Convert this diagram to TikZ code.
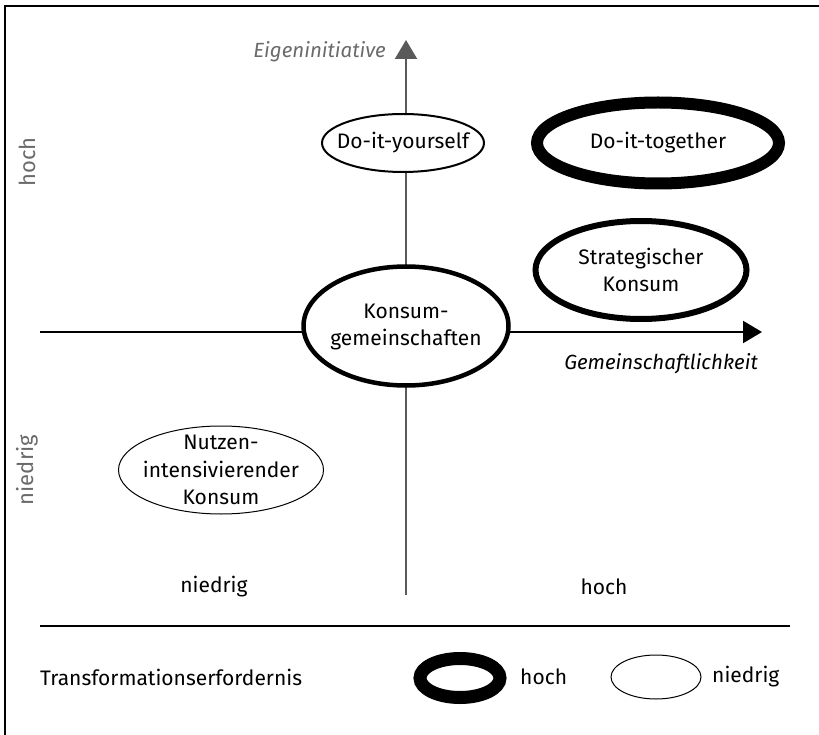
\documentclass[tikz,border=0pt]{standalone}
\usepackage{fontspec}
\setmainfont{Fira Sans}
\usetikzlibrary{shapes.geometric,arrows.meta}
\definecolor{axgray}{HTML}{5A5A5A}
\definecolor{txtgray}{HTML}{6A6A6A}
\tikzset{
  ell/.style={ellipse, draw=black, fill=white, inner sep=0pt},
  lbl/.style={inner sep=0pt, align=center, font=\fontsize{21}{27.5}\selectfont},
  graylbl/.style={lbl, text=txtgray},
}
\begin{document}
\begin{tikzpicture}[x=1pt,y=-1pt]
\useasboundingbox (0,0) rectangle (819,735);
% frame
\draw[line width=1.5pt] (5,735) -- (5,6) -- (819,6);
% axis end points
\coordinate (vbot) at (406,595);
\coordinate (vtop) at (406,40);
\coordinate (hleft) at (40,332);
\coordinate (hright) at (762,332);
% axes
\draw[axgray, line width=2.2pt, -{Triangle[width=22pt,length=19pt]}] (vbot) -- (vtop);
\draw[black, line width=2.2pt, -{Triangle[width=22pt,length=19pt]}] (hleft) -- (hright);
% axis labels
\node[graylbl, anchor=east, font=\fontsize{20.5}{22}\selectfont\itshape] (eig) at (386,52) {Eigeninitiative};
\node[lbl, anchor=east, font=\fontsize{20.5}{22}\selectfont\itshape] (gem) at (758,364) {Gemeinschaftlichkeit};
\node[graylbl, rotate=90, font=\fontsize{22}{27.5}\selectfont] (lhoch) at (27,162) {hoch};
\node[graylbl, rotate=90, font=\fontsize{22}{27.5}\selectfont] (lnied) at (27,470) {niedrig};
\node[lbl] (bnied) at (214,587) {niedrig};
\node[lbl] (bhoch) at (604,587) {hoch};
% ellipses
\node[ell, line width=2pt, minimum width=162pt, minimum height=58pt] (diy) at (403,143) {};
\node[lbl] (diyT) at (diy.center) {Do-it-yourself};
\node[ell, line width=12pt, minimum width=242pt, minimum height=81pt] (dit) at (658,143) {};
\node[lbl] (ditT) at (dit.center) {Do-it-together};
\node[ell, line width=6pt, minimum width=211pt, minimum height=98pt] (sk) at (641,270) {};
\node[lbl] (skT) at (sk.center) {Strategischer\\Konsum};
\node[ell, line width=4.5pt, minimum width=205pt, minimum height=119pt] (kg) at (406,326) {};
\node[lbl] (kgT) at ([yshift=-1pt]kg.center) {Konsum-\\gemeinschaften};
\node[ell, line width=1pt, minimum width=205pt, minimum height=88pt] (nk) at (221,470) {};
\node[lbl] (nkT) at (nk.center) {Nutzen-\\intensivierender\\Konsum};
% legend
\coordinate (sepl) at (40,626);
\coordinate (sepr) at (790,626);
\draw[line width=1.5pt] (sepl) -- (sepr);
\node[lbl, anchor=west] (trans) at (40,677) {Transformationserfordernis};
\node[ell, line width=13pt, minimum width=80pt, minimum height=39pt] (lghoch) at (460,678) {};
\node[lbl, anchor=west] (lghochT) at (520,677) {hoch};
\node[ell, line width=1pt, minimum width=90pt, minimum height=44pt] (lgnied) at (656,677) {};
\node[lbl, anchor=west] (lgniedT) at (712,677) {niedrig};
\end{tikzpicture}
\end{document}
